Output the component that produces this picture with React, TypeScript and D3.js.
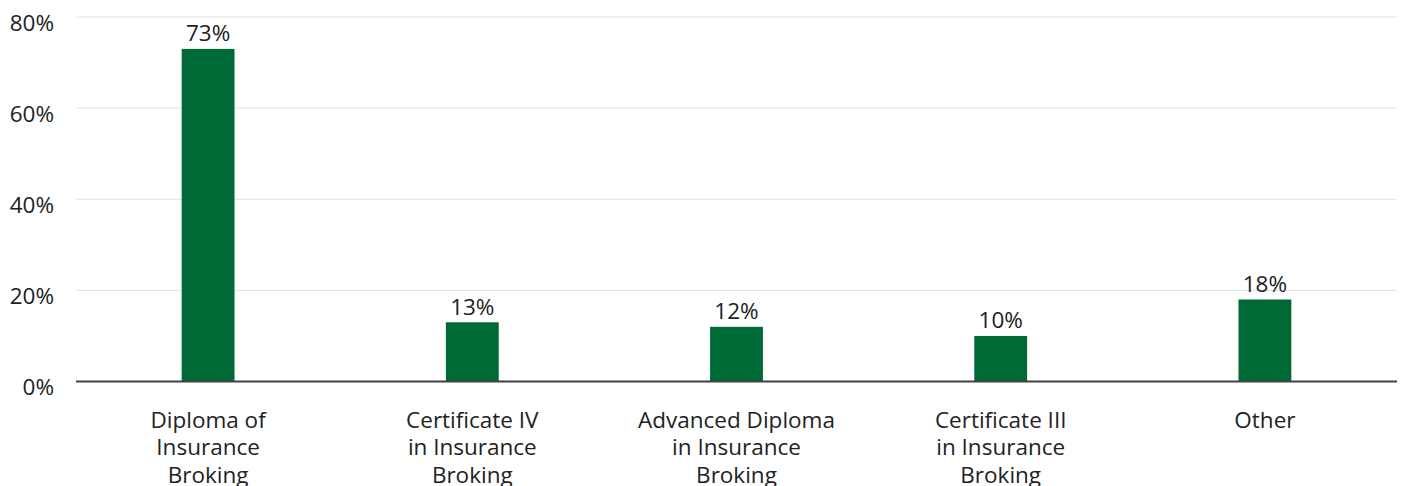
import React from "react";
import * as d3 from "d3";

const categories: string[][] = [
  ["Diploma of", "Insurance", "Broking"],
  ["Certificate IV", "in Insurance", "Broking"],
  ["Advanced Diploma", "in Insurance", "Broking"],
  ["Certificate III", "in Insurance", "Broking"],
  ["Other"],
];
const values: number[] = [73, 13, 12, 10, 18];
const yTicks: number[] = [0, 20, 40, 60, 80];

const W = 1410;
const H = 486;
const left = 76;
const right = 1397;
const top = 17;
const bottom = 381.5;
const FONT = "'Open Sans', sans-serif";
const FS = 22.5;

export default function App() {
  const x = d3
    .scaleBand<number>()
    .domain(values.map((_, i) => i))
    .range([left, right])
    .paddingInner(0.8)
    .paddingOuter(0.4);
  const y = d3.scaleLinear().domain([0, 80]).range([bottom, top]);

  return (
    <svg
      width={W}
      height={H}
      style={{ position: "absolute", left: 0, top: 0 }}
      fontFamily={FONT}
    >
      {yTicks.map((t) => (
        <g key={t}>
          {t !== 0 && (
            <line
              x1={left}
              x2={right}
              y1={y(t)}
              y2={y(t)}
              stroke="#e1e1e1"
              strokeWidth={1}
            />
          )}
          <text
            x={54}
            y={y(t) + 13.5}
            textAnchor="end"
            fontSize={FS}
            fill="#222"
          >
            {t}%
          </text>
        </g>
      ))}
      {values.map((v, i) => {
        const bx = x(i)!;
        const bw = x.bandwidth();
        return (
          <g key={i}>
            <rect
              x={bx}
              y={y(v)}
              width={bw}
              height={y(0) - y(v)}
              fill="#006a36"
            />
            <text
              x={bx + bw / 2}
              y={y(v) - 7.5}
              textAnchor="middle"
              fontSize={FS}
              fill="#222"
            >
              {v}%
            </text>
            {categories[i].map((line, j) => (
              <text
                key={j}
                x={bx + bw / 2}
                y={427.5 + j * 27.8}
                textAnchor="middle"
                fontSize={FS}
                fill="#222"
              >
                {line}
              </text>
            ))}
          </g>
        );
      })}
      <line
        x1={left}
        x2={right}
        y1={y(0)}
        y2={y(0)}
        stroke="#404040"
        strokeWidth={2}
      />
    </svg>
  );
}
